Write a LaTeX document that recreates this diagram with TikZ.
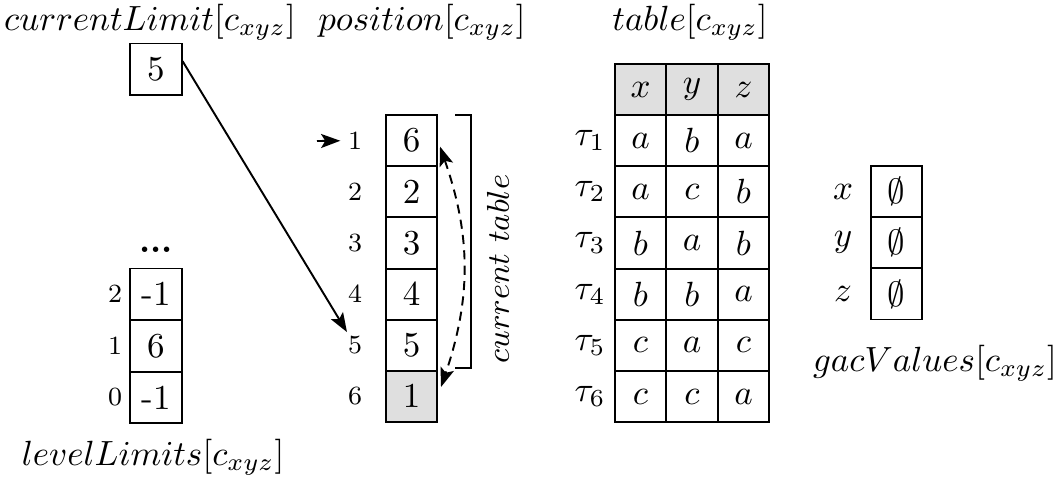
\documentclass[tikz,border=0pt]{standalone}
\usetikzlibrary{arrows.meta,calc}
\begin{document}
\begin{tikzpicture}[x=0.2857pt,y=-0.2857pt,
  cell/.style={draw, line width=0.55pt, minimum width=14.6pt, minimum height=14.6pt, inner sep=0pt},
  hdr/.style={cell, fill=gray!25},
  idx/.style={font=\fontsize{7.5}{9}\selectfont, inner sep=1pt},
  lbl/.style={inner sep=0pt},
  arr/.style={-{Stealth[length=5.5pt,width=4pt,inset=1.2pt]}, line width=0.55pt}]
\useasboundingbox (0,0) rectangle (1056,482);
% titles
\node[lbl] (tcur) at (150,22) {$currentLimit[c_{xyz}]$};
\node[lbl] (tpos) at (422,22) {$position[c_{xyz}]$};
\node[lbl] (ttab) at (690,22) {$table[c_{xyz}]$};
\node[cell] (cl) at (156,69) {$5$};
% levelLimits
\node[lbl] (dots) at (156,250) {\textbf{...}};
\node[cell] (l2) at (156,294) {-1};
\node[cell] (l1) at (156,346) {$6$};
\node[cell] (l0) at (156,397.5) {-1};
\node[idx] (il2) at (115,294) {2};
\node[idx] (il1) at (115,346) {1};
\node[idx] (il0) at (115,397.5) {0};
\node[lbl] (tlev) at (153,457) {$levelLimits[c_{xyz}]$};
% position
\foreach \v [count=\i] in {6,2,3,4,5} {
  \node[cell] (p\i) at (411.5,{140.6+51.17*(\i-1)}) {$\v$};
  \node[idx] (pl\i) at (355,{140.6+51.17*(\i-1)}) {\i};
}
\node[hdr] (p6) at (411.5,396.5) {$1$};
\node[idx] (pl6) at (355,396.5) {6};
% table
\foreach \h [count=\j] in {x,y,z}
  \node[hdr] (h\j) at ({589+51.5*\j},89.5) {$\h$};
\foreach \a/\b/\c [count=\i] in {a/b/a, a/c/b, b/a/b, b/b/a, c/a/c, c/c/a} {
  \node[cell] (t\i a) at (640.5,{140.6+51.17*(\i-1)}) {$\a$};
  \node[cell] (t\i b) at (692,{140.6+51.17*(\i-1)}) {$\b$};
  \node[cell] (t\i c) at (743.5,{140.6+51.17*(\i-1)}) {$\c$};
  \node[lbl] (tau\i) at (590,{140.6+51.17*(\i-1)}) {$\tau_{\i}$};
}
% gacValues
\foreach \v [count=\i] in {x,y,z} {
  \node[cell] (g\i) at (896.5,{191.5+51.2*(\i-1)}) {$\emptyset$};
  \node[lbl] (gl\i) at (843,{191.5+51.2*(\i-1)}) {$\v$};
}
\node[lbl] (tgac) at (935,363) {$gacValues[c_{xyz}]$};
% connectors
\coordinate (a0) at (317,141);
\draw[arr, shorten >=1pt] (a0) -- (pl1);
\draw[arr] ($(cl.north east)!0.35!(cl.south east)$) -- (pl5);
\draw[line width=0.55pt] (455,115) -- (471,115) -- (471,368) -- (455,368);
\node[rotate=90, lbl, font=\small] (ct) at (498,269) {$current\ table$};
\draw[dash pattern=on 2.6pt off 1.8pt, line width=0.55pt, {Stealth[length=5.5pt,width=4pt,inset=1.2pt]}-{Stealth[length=5.5pt,width=4pt,inset=1.2pt]}]
  ($(p1.east)+(2,6)$) to[bend left=19] ($(p6.east)+(3,-9.5)$);
\end{tikzpicture}
\end{document}
